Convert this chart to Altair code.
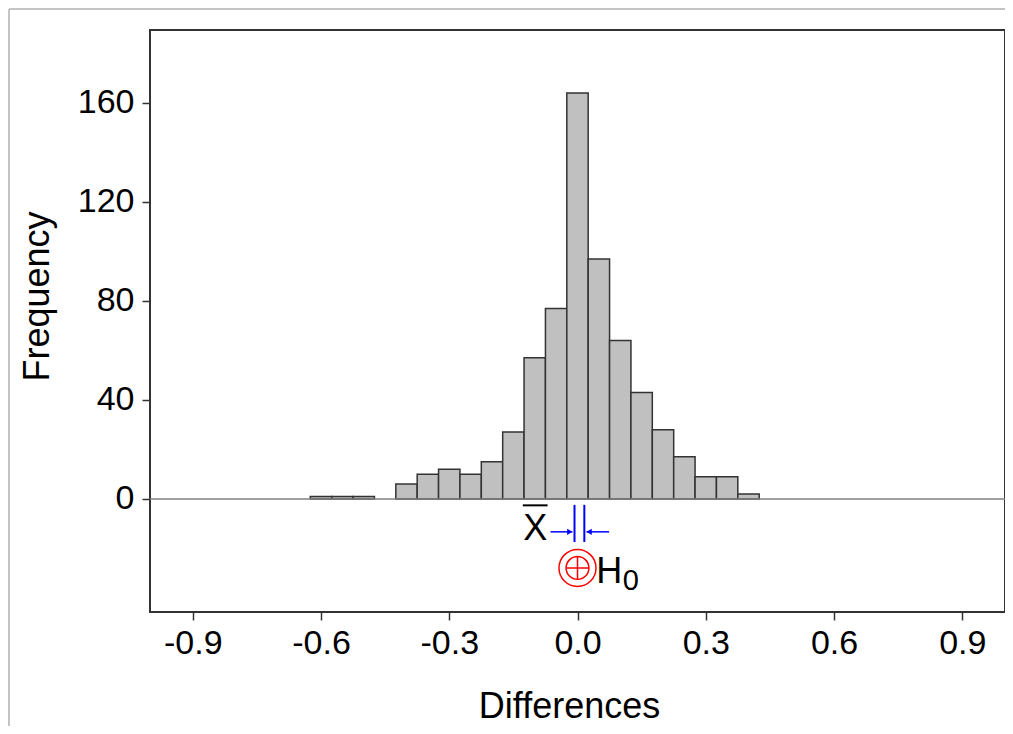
import altair as alt
import pandas as pd

# ---- data ----
bin_centers = [-0.60, -0.55, -0.50, -0.40, -0.35, -0.30, -0.25, -0.20, -0.15, -0.10,
               -0.05, 0.00, 0.05, 0.10, 0.15, 0.20, 0.25, 0.30, 0.35, 0.40]
frequencies = [1, 1, 1, 6, 10, 12, 10, 15, 27, 57,
               77, 164, 97, 64, 43, 28, 17, 9, 9, 2]
bin_width = 0.05

x_ticks = [-0.9, -0.6, -0.3, 0.0, 0.3, 0.6, 0.9]
y_ticks = [0, 40, 80, 120, 160]
x_domain = [-1.0, 1.0]
y_domain = [-45.7, 189.5]

# interval for the mean (blue) and hypothesised mean (red)
ci_bounds = [-0.007, 0.016]
ci_y = [-2.4, -17.4]
arrow_y = -13.3
arrow_left = [-0.063, -0.012]
arrow_right = [0.074, 0.021]
xbar_pos = [-0.099, -16.6]
xbar_bar = [-0.128, -0.070, -2.6]
h0_value = 0.0
h0_y = -27.9
h_text_pos = [0.044, -33.9]
sub_text_pos = [0.106, -36.8]

FONT = "Liberation Sans"

bars = pd.DataFrame({"center": bin_centers, "count": frequencies})
bars["lo"] = bars["center"] - bin_width / 2
bars["hi"] = bars["center"] + bin_width / 2

xs = alt.Scale(domain=x_domain, nice=False, zero=False)
ys = alt.Scale(domain=y_domain, nice=False, zero=False)

x_axis = alt.Axis(
    values=x_ticks,
    labelExpr="datum.value < 0 ? '-' + format(-datum.value, '.1f') : format(datum.value, '.1f')",
    title="Differences", titleFont=FONT, titleFontSize=36, titleFontWeight="normal",
    titleColor="black", titleX=419, titleY=105, titleBaseline="alphabetic",
    labelFont=FONT, labelFontSize=34, labelColor="black", labelPadding=6,
    tickSize=8, tickColor="#333333", tickWidth=1.5, domain=False, grid=False,
    labelFlush=False, labelOverlap=False,
)
y_axis = alt.Axis(
    values=y_ticks, title="Frequency", titleFont=FONT, titleFontSize=36,
    titleFontWeight="normal", titleColor="black", titleX=-102, titleY=266,
    titleBaseline="alphabetic",
    labelFont=FONT, labelFontSize=34, labelColor="black", labelPadding=8,
    tickSize=8, tickColor="#333333", tickWidth=1.5, domain=False, grid=False,
    labelFlush=False, labelOverlap=False,
)


def X(field):
    return alt.X(field, scale=xs, axis=x_axis)


def Y(field):
    return alt.Y(field, scale=ys, axis=y_axis)


hist = alt.Chart(bars).mark_rect(
    fill="#c0c0c0", stroke="#333333", strokeWidth=1.5
).encode(x=X("lo:Q"), x2="hi:Q", y=Y("count:Q"), y2=alt.datum(0))

zero_line = alt.Chart(pd.DataFrame({"y": [0]})).mark_rule(
    color="#808080", strokeWidth=1.5
).encode(y=Y("y:Q"))

xbar = alt.Chart(pd.DataFrame({"x": [xbar_pos[0]], "y": [xbar_pos[1]], "t": ["X"]})).mark_text(
    font=FONT, fontSize=36, align="center", baseline="alphabetic", color="black"
).encode(x=X("x:Q"), y=Y("y:Q"), text="t:N")
xbar_line = alt.Chart(pd.DataFrame({"x": [xbar_bar[0]], "x2": [xbar_bar[1]], "y": [xbar_bar[2]]})).mark_rule(
    color="black", strokeWidth=2
).encode(x=X("x:Q"), x2="x2:Q", y=Y("y:Q"))

ci_df = pd.DataFrame({"x": ci_bounds, "y": [ci_y[0]] * 2, "y2": [ci_y[1]] * 2})
ci_lines = alt.Chart(ci_df).mark_rule(color="#0000ff", strokeWidth=2).encode(
    x=X("x:Q"), y=Y("y:Q"), y2="y2:Q"
)

shafts = pd.DataFrame({
    "x": [arrow_left[0], arrow_right[0]],
    "x2": [arrow_left[1], arrow_right[1]],
    "y": [arrow_y, arrow_y],
})
shaft_lines = alt.Chart(shafts).mark_rule(color="#0000ff", strokeWidth=1.5).encode(
    x=X("x:Q"), x2="x2:Q", y=Y("y:Q")
)
head_r = alt.Chart(pd.DataFrame({"x": [arrow_left[1]], "y": [arrow_y]})).mark_point(
    shape="M0,0L-1,-0.6L-1,0.6Z", filled=True, color="#0000ff", size=110, opacity=1
).encode(x=X("x:Q"), y=Y("y:Q"))
head_l = alt.Chart(pd.DataFrame({"x": [arrow_right[1]], "y": [arrow_y]})).mark_point(
    shape="M0,0L1,-0.6L1,0.6Z", filled=True, color="#0000ff", size=110, opacity=1
).encode(x=X("x:Q"), y=Y("y:Q"))

h0_df = pd.DataFrame({"x": [h0_value], "y": [h0_y]})
h0_outer = alt.Chart(h0_df).mark_point(
    shape="circle", size=1369, color="#ff0000", strokeWidth=1.5, opacity=1
).encode(x=X("x:Q"), y=Y("y:Q"))
h0_inner = alt.Chart(h0_df).mark_point(
    shape="M-1,0A1,1,0,1,1,1,0A1,1,0,1,1,-1,0ZM-1,0L1,0M0,-1L0,1", size=520,
    color="#ff0000", strokeWidth=1.5, opacity=1
).encode(x=X("x:Q"), y=Y("y:Q"))

h_text = alt.Chart(pd.DataFrame({"x": [h_text_pos[0]], "y": [h_text_pos[1]], "t": ["H"]})).mark_text(
    font=FONT, fontSize=36, align="left", baseline="alphabetic", color="black"
).encode(x=X("x:Q"), y=Y("y:Q"), text="t:N")
sub_text = alt.Chart(pd.DataFrame({"x": [sub_text_pos[0]], "y": [sub_text_pos[1]], "t": ["0"]})).mark_text(
    font=FONT, fontSize=29, align="left", baseline="alphabetic", color="black"
).encode(x=X("x:Q"), y=Y("y:Q"), text="t:N")

# light grey frame of the picture (decoration)
one = pd.DataFrame({"a": [0]})
frame_left = alt.Chart(one).mark_rule(color="#c4c4c4", strokeWidth=2).encode(
    x=alt.value(-141), y=alt.value(-21), y2=alt.value(720))
frame_top = alt.Chart(one).mark_rule(color="#c4c4c4", strokeWidth=2).encode(
    x=alt.value(-141), x2=alt.value(870), y=alt.value(-21))

chart = alt.layer(
    hist, zero_line, xbar, xbar_line, ci_lines, shaft_lines, head_r, head_l,
    h0_outer, h0_inner, h_text, sub_text, frame_left, frame_top,
).properties(
    width=855, height=582,
    autosize=alt.AutoSizeParams(type="none"),
    padding={"left": 142, "top": 22, "right": 0, "bottom": 114},
    background="white",
).configure_view(
    stroke="#333333", strokeWidth=2
)

chart.save("out.html", embed_options={"renderer": "svg", "actions": False})
